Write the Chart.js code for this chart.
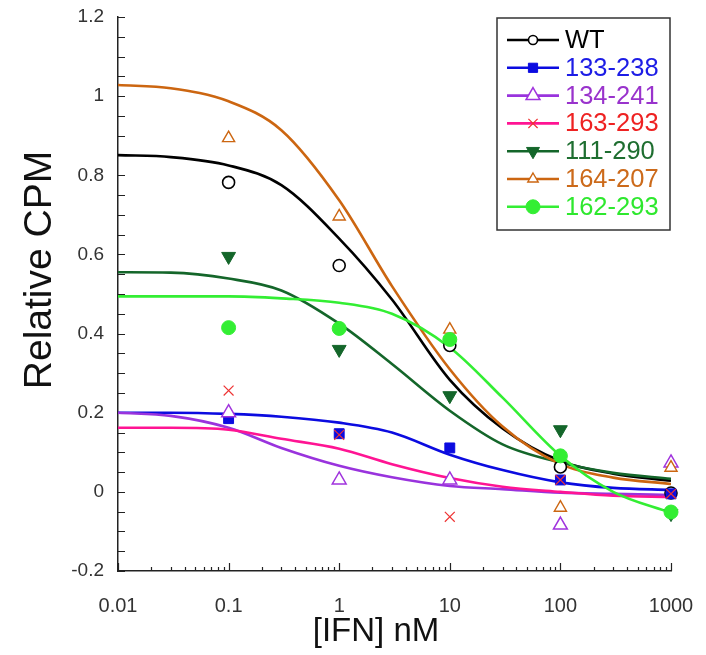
<!DOCTYPE html>
<html><head><meta charset="utf-8">
<script src="https://cdn.jsdelivr.net/npm/chart.js@4.4.1/dist/chart.umd.min.js"></script>
<style>html,body{margin:0;padding:0;background:#fff}#wrap{width:706px;height:655px;position:relative}</style>
</head><body><div id="wrap"><canvas id="c"></canvas></div>
<script>
// ---- data ----
const seriesNames = ['WT','133-238','134-241','163-293','111-290','164-207','162-293'];
const doseX = [0.1, 1, 10, 100, 1000];
const wtPts   = [0.782, 0.572, 0.370, 0.063, -0.003];
const s133Pts = [0.185, 0.147, 0.111, 0.030, -0.005];
const s134Pts = [0.200, 0.030, 0.030, -0.084, 0.073];
const s163Pts = [0.256, 0.144, -0.063, 0.030, -0.005];
const s111Pts = [0.595, 0.360, 0.243, 0.157, -0.055];
const s164Pts = [0.894, 0.696, 0.410, -0.040, 0.061];
const s162Pts = [0.415, 0.413, 0.385, 0.091, -0.051];

const curveX = [0.01, 0.03, 0.1, 0.3, 1, 3, 10, 30, 100, 300, 1000];
const wtFit   = [0.851, 0.846, 0.825, 0.775, 0.640, 0.486, 0.283, 0.160, 0.078, 0.046, 0.028];
const s133Fit = [0.200, 0.200, 0.197, 0.190, 0.175, 0.150, 0.094, 0.055, 0.024, 0.010, 0.005];
const s134Fit = [0.200, 0.192, 0.162, 0.111, 0.066, 0.037, 0.015, 0.007, -0.002, -0.005, -0.008];
const s163Fit = [0.162, 0.162, 0.157, 0.134, 0.109, 0.070, 0.035, 0.013, 0.000, -0.010, -0.013];
const s111Fit = [0.555, 0.554, 0.539, 0.509, 0.425, 0.323, 0.205, 0.120, 0.074, 0.048, 0.033];
const s164Fit = [1.028, 1.020, 0.987, 0.914, 0.737, 0.520, 0.310, 0.165, 0.070, 0.036, 0.020];
const s162Fit = [0.494, 0.494, 0.494, 0.489, 0.478, 0.450, 0.365, 0.238, 0.091, 0.000, -0.053];

const xTickLabels = ['0.01','0.1','1','10','100','1000'];
const yTickLabels = ['-0.2','0','0.2','0.4','0.6','0.8','1','1.2'];

// ---- styles ----
const FONT = '"Liberation Sans", Arial, sans-serif';
const styles = [
  {line:'#000000', text:'#000000', pt:'circle',   r:6,   lr:4.5, fill:'#ffffff', stroke:'#000000', bw:1.6},
  {line:'#0b0be0', text:'#1c1ce6', pt:'rect',     r:7,   lr:6.5, fill:'#0b0be0', stroke:'#0b0be0', bw:1},
  {line:'#9933dd', text:'#9933cc', pt:'triangle', r:8,   lr:8,   fill:'#ffffff', stroke:'#a033dd', bw:1.5},
  {line:'#ff1493', text:'#ee2222', pt:'crossRot', r:7,   lr:6.5, fill:'#ee3333', stroke:'#ee3333', bw:1.2},
  {line:'#14662a', text:'#1e6e30', pt:'triangle', rot:180, r:8, lr:7.5, fill:'#14662a', stroke:'#14662a', bw:1},
  {line:'#cc6611', text:'#cc6a1a', pt:'triangle', r:7,   lr:6,   fill:'#ffffff', stroke:'#cc6611', bw:1.4},
  {line:'#33ee33', text:'#2ee82e', pt:'circle',   r:7,   lr:7,   fill:'#33ee33', stroke:'#33ee33', bw:1}
];

const ptsArr = [wtPts, s133Pts, s134Pts, s163Pts, s111Pts, s164Pts, s162Pts];
const fitArr = [wtFit, s133Fit, s134Fit, s163Fit, s111Fit, s164Fit, s162Fit];

// tick positions
const xMajor = xTickLabels.map(Number);
const xTicks = [];
xMajor.forEach((d, i) => {
  xTicks.push(d);
  if (i < xMajor.length - 1) for (let m = 2; m <= 9; m++) xTicks.push(+(d * m).toPrecision(6));
});
const yMajor = yTickLabels.map(Number);
const yTicks = [];
for (let k = 0; k <= 28; k++) yTicks.push(Math.round((-0.2 + k * 0.05) * 1000) / 1000);

function isXMajor(v){ return xMajor.some(m => Math.abs(Math.log10(v) - Math.log10(m)) < 1e-6); }
function xLabel(v){ const i = xMajor.findIndex(m => Math.abs(Math.log10(v) - Math.log10(m)) < 1e-6); return i >= 0 ? xTickLabels[i] : ''; }
function yLabel(v){ const i = yMajor.findIndex(m => Math.abs(v - m) < 1e-6); return i >= 0 ? yTickLabels[i] : ''; }

const datasets = [];
seriesNames.forEach((n, i) => {
  const s = styles[i];
  datasets.push({
    label: n + ' fit', data: curveX.map((x, k) => ({x, y: fitArr[i][k]})),
    borderColor: s.line, borderWidth: 2.6, pointRadius: 0, cubicInterpolationMode: 'monotone',
    fill: false, order: 30 - i
  });
  datasets.push({
    label: n, data: doseX.map((x, k) => ({x, y: ptsArr[i][k]})), showLine: false, clip: false,
    pointStyle: s.pt, pointRadius: s.r, pointRotation: s.rot || 0,
    pointBackgroundColor: s.fill, pointBorderColor: s.stroke, pointBorderWidth: s.bw,
    order: 10 - i
  });
});

function drawMarker(ctx, s, r, x, y){
  ctx.save();
  ctx.fillStyle = s.fill; ctx.strokeStyle = s.stroke; ctx.lineWidth = s.bw;
  Chart.helpers.drawPoint(ctx, {pointStyle: s.pt, radius: r, rotation: s.rot || 0, borderWidth: s.bw}, x, y);
  ctx.restore();
}

const decor = {
  id: 'decor',
  beforeDatasetsDraw(chart){
    const {ctx, chartArea: a, scales: {x, y}} = chart;
    ctx.save();
    ctx.strokeStyle = '#222'; ctx.lineWidth = 1.2;
    ctx.beginPath();
    xTicks.forEach(v => {
      const px = Math.round(x.getPixelForValue(v)) + 0.5;
      const L = isXMajor(v) ? 8 : 4;
      ctx.moveTo(px, a.bottom); ctx.lineTo(px, a.bottom - L);
    });
    yTicks.forEach(v => {
      const py = Math.round(y.getPixelForValue(v)) + 0.5;
      ctx.moveTo(a.left, py); ctx.lineTo(a.left + 7, py);
    });
    ctx.stroke();
    ctx.restore();
  },
  afterDraw(chart){
    const {ctx} = chart;
    ctx.save();
    // axis titles
    ctx.fillStyle = '#111';
    ctx.textAlign = 'center'; ctx.textBaseline = 'middle';
    ctx.font = '33px ' + FONT;
    ctx.fillText('[IFN] nM', 376, 632);
    ctx.save();
    ctx.translate(40, 270); ctx.rotate(-Math.PI / 2);
    ctx.font = '39px ' + FONT;
    ctx.fillText('Relative CPM', 0, 0);
    ctx.restore();
    // legend
    const L = {x: 497, y: 18, w: 173, h: 212};
    ctx.fillStyle = '#fff'; ctx.fillRect(L.x, L.y, L.w, L.h);
    ctx.strokeStyle = '#333'; ctx.lineWidth = 1.5; ctx.strokeRect(L.x, L.y, L.w, L.h);
    seriesNames.forEach((n, i) => {
      const s = styles[i];
      const cy = 40 + i * 27.8;
      ctx.strokeStyle = s.line; ctx.lineWidth = 2.6;
      ctx.beginPath(); ctx.moveTo(507, cy); ctx.lineTo(559, cy); ctx.stroke();
      drawMarker(ctx, s, s.lr, 533, cy);
      ctx.fillStyle = s.text; ctx.textAlign = 'left'; ctx.textBaseline = 'middle';
      ctx.font = '25.5px ' + FONT;
      ctx.fillText(n, 565, cy + 1);
    });
    ctx.restore();
  }
};

new Chart(document.getElementById('c'), {
  type: 'line',
  data: {datasets},
  options: {
    responsive: true, maintainAspectRatio: false, devicePixelRatio: 1,
    animation: false, events: [],
    layout: {padding: {top: 17, right: 35, left: 0, bottom: 0}},
    plugins: {legend: {display: false}, tooltip: {enabled: false}},
    scales: {
      x: {
        type: 'logarithmic', min: 0.01, max: 1000,
        afterBuildTicks: sc => { sc.ticks = xTicks.map(v => ({value: v})); },
        afterFit: sc => { sc.height = 84; sc.paddingLeft = 0; sc.paddingRight = 0; sc.paddingTop = 0; sc.paddingBottom = 0; },
        grid: {display: false, drawTicks: false},
        border: {display: true, color: '#222', width: 1.5},
        ticks: {autoSkip: false, maxRotation: 0, minRotation: 0, padding: 23, color: '#333',
                font: {family: FONT, size: 20}, callback: v => xLabel(v)}
      },
      y: {
        type: 'linear', min: -0.2, max: 1.2,
        afterBuildTicks: sc => { sc.ticks = yTicks.map(v => ({value: v})); },
        afterFit: sc => { sc.width = 118; sc.paddingLeft = 0; sc.paddingRight = 0; sc.paddingTop = 0; sc.paddingBottom = 0; },
        grid: {display: false, drawTicks: false},
        border: {display: true, color: '#222', width: 1.5},
        ticks: {autoSkip: false, padding: 14, color: '#333',
                font: {family: FONT, size: 19}, callback: v => yLabel(v)}
      }
    }
  },
  plugins: [decor]
});
</script>
</body></html>
